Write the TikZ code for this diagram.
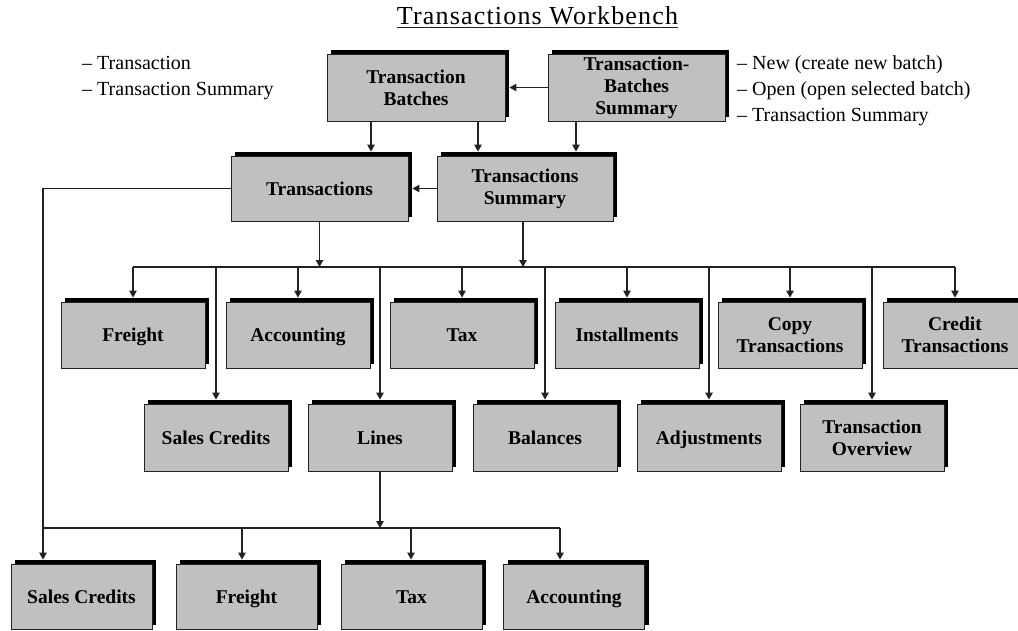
\documentclass[tikz,border=0pt]{standalone}
\usepackage{fontspec}
\setmainfont{Liberation Serif}
\newfontfamily\titlefont[LetterSpace=4.5]{Liberation Serif}
\usetikzlibrary{arrows.meta,shadows,calc}
\definecolor{boxgray}{RGB}{192,192,192}
\definecolor{ink}{RGB}{34,34,34}

\begin{document}
\begin{tikzpicture}[x=1pt,y=-1pt,
  box/.style={draw=ink, line width=0.9pt, fill=boxgray,
    minimum width=144pt, minimum height=66pt, inner sep=0pt, align=center,
    font=\fontsize{19.5}{22}\selectfont\bfseries,
    drop shadow={shadow xshift=4pt, shadow yshift=4pt, fill=black, opacity=1}},
  one/.style={text height=13pt, text depth=0pt},
  wide/.style={minimum width=177pt},
  low/.style={minimum width=141pt, minimum height=65pt},
  conn/.style={draw=ink, line width=1.2pt},
  arr/.style={conn, -{Triangle[length=7pt,width=7.5pt]}},
  toshadow/.style={arr, shorten >=4pt},
  note/.style={anchor=base west, inner sep=0pt, font=\fontsize{20}{24}\selectfont}]

\useasboundingbox (0,0) rectangle (1018,630);
\clip (0,0) rectangle (1018,630);

% title
\node[inner sep=0pt, anchor=base, font=\titlefont\fontsize{26}{28}\selectfont]
  (title) at (537.5,24) {Transactions Workbench};
\draw[ink, line width=1.3pt] (title.west |- 0,27.5) -- (title.east |- 0,27.5);

% notes
\node[note] (nl1) at (82,69.5) {– Transaction};
\node[note] (nl2) at (82,95.5) {– Transaction Summary};
\node[note] (nr1) at (737,69.5) {– New (create new batch)};
\node[note] (nr2) at (737,95.5) {– Open (open selected batch)};
\node[note] (nr3) at (737,121.5) {– Transaction Summary};

% upper boxes
\node[box, wide, minimum width=178pt, minimum height=67pt] (tb) at (416,87.5) {Transaction\\Batches};
\node[box, wide, minimum height=67pt] (tbs) at (636.5,87.5) {Transaction-\\Batches\\Summary};
\node[box, one, wide, minimum height=65pt] (tr) at (319.5,188.5) {Transactions};
\node[box, wide, minimum width=176pt, minimum height=65pt] (ts) at (525,188.5) {Transactions\\Summary};

% first row
\node[box, one] (fr1) at (133,335) {Freight};
\node[box, one] (ac1) at (298,335) {Accounting};
\node[box, one] (tx1) at (462,335) {Tax};
\node[box, one] (in1) at (627,335) {Installments};
\node[box] (cp1) at (790,335) {Copy\\Transactions};
\node[box] (cr1) at (955,335) {Credit\\Transactions};

% second row
\node[box, one, minimum height=67pt] (sc2) at (216,437.5) {Sales Credits};
\node[box, one, minimum height=67pt] (ln2) at (380,437.5) {Lines};
\node[box, one, minimum height=67pt] (bl2) at (545,437.5) {Balances};
\node[box, one, minimum height=67pt] (ad2) at (709,437.5) {Adjustments};
\node[box, minimum height=67pt] (ov2) at (872,437.5) {Transaction\\Overview};

% bottom row
\node[box, one, low] (sc3) at (81.5,596.5) {Sales Credits};
\node[box, one, low] (fr3) at (246.5,596.5) {Freight};
\node[box, one, low] (tx3) at (411.5,596.5) {Tax};
\node[box, one, low] (ac3) at (574,596.5) {Accounting};

% connectors between the upper boxes
\draw[toshadow] (tbs.west) -- (tb.east);
\coordinate (u1) at ($(tb.south)+(-45,0)$);
\coordinate (u2) at ($(tb.south)+(62,0)$);
\coordinate (u3) at ($(tbs.south)+(-60.5,0)$);
\draw[toshadow] (u1) -- (u1 |- tr.north);
\draw[toshadow] (u2) -- (u2 |- ts.north);
\draw[toshadow] (u3) -- (u3 |- ts.north);
\draw[toshadow] (ts.west) -- (tr.east);

% distribution bar below Transactions / Transactions Summary
\coordinate (barL) at (133,267);
\coordinate (barR) at (955,267);
\draw[conn] (barL) -- (barR);
\draw[arr] (tr.south) -- (tr.south |- barL);
\draw[arr] ($(ts.south)+(-2,0)$) coordinate (u4) -- (u4 |- barL);
\foreach \n in {fr1,ac1,tx1,in1,cp1,cr1,sc2,ln2,bl2,ad2,ov2}
  \draw[toshadow] (\n.north |- barL) -- (\n.north);

% distribution bar below Lines
\coordinate (bar2L) at (43,528);
\coordinate (bar2R) at (560,528);
\coordinate (d2) at (242,528);
\coordinate (d3) at (411,528);
\draw[conn] (bar2L) -- (bar2R);
\draw[arr] (ln2.south) -- (ln2.south |- bar2L);
\draw[toshadow] (tr.west) -| (bar2L |- sc3.north);
\draw[toshadow] (d2) -- (d2 |- fr3.north);
\draw[toshadow] (d3) -- (d3 |- tx3.north);
\draw[toshadow] (bar2R) -- (bar2R |- ac3.north);

\end{tikzpicture}
\end{document}
